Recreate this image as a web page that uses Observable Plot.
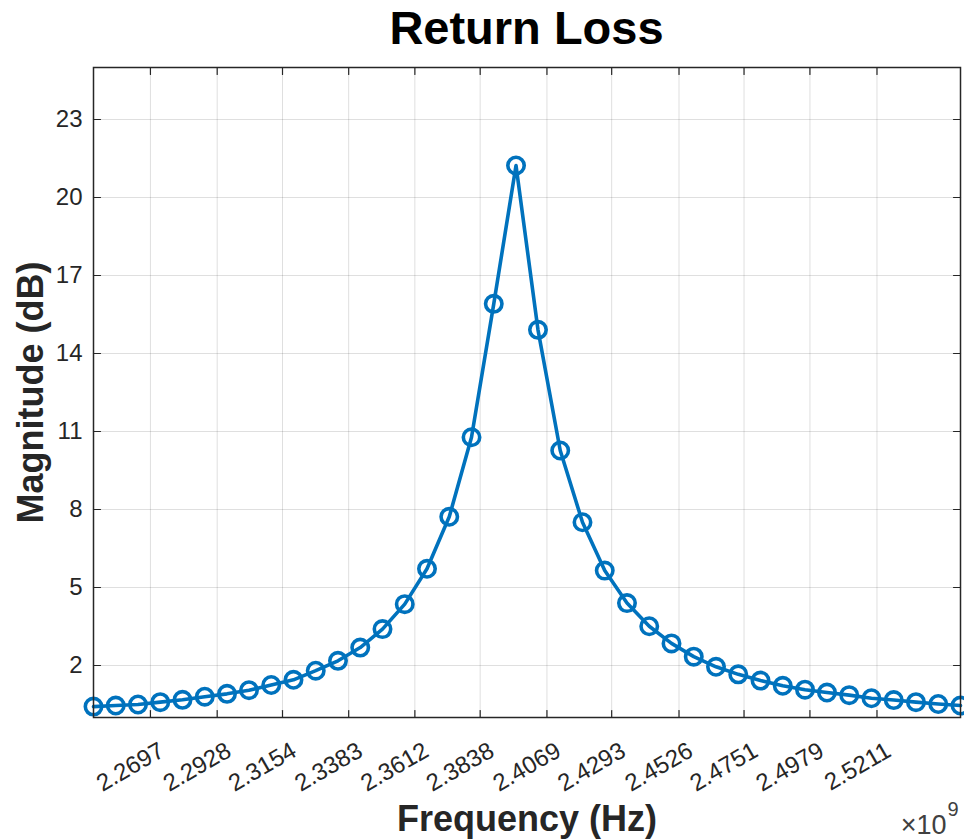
<!DOCTYPE html>
<html>
<head>
<meta charset="utf-8">
<script src="https://cdn.jsdelivr.net/npm/d3@7"></script>
<script src="https://cdn.jsdelivr.net/npm/@observablehq/plot@0.6"></script>
<style>
  body { margin: 0; background: #fff; font-family: "Liberation Sans", Arial, Helvetica, sans-serif; }
  #title { width: 964px; height: 62px; line-height: 55px; box-sizing: border-box; padding-left: 89px;
           text-align: center; font-size: 47px; font-weight: bold; color: #000; white-space: nowrap; }
  #chart svg { display: block; }
</style>
</head>
<body>
<div id="title">Return Loss</div>
<div id="chart"></div>
<script>
// Frequency samples (GHz, axis multiplier ×10^9)
const freqGHz = [
  2.2500, 2.2577, 2.2654, 2.2731, 2.2808, 2.2885, 2.2962, 2.3038, 2.3115, 2.3192,
  2.3269, 2.3346, 2.3423, 2.3500, 2.3577, 2.3654, 2.3731, 2.3808, 2.3885, 2.3962,
  2.4038, 2.4115, 2.4192, 2.4269, 2.4346, 2.4423, 2.4500, 2.4577, 2.4654, 2.4731,
  2.4808, 2.4885, 2.4962, 2.5038, 2.5115, 2.5192, 2.5269, 2.5346, 2.5423, 2.5500
];
// Return loss magnitude (dB)
const magnitudeDB = [
  0.42, 0.46, 0.50, 0.59, 0.68, 0.80, 0.91, 1.05, 1.25, 1.45,
  1.80, 2.18, 2.69, 3.40, 4.36, 5.72, 7.72, 10.78, 15.91, 21.23,
  14.91, 10.27, 7.51, 5.65, 4.40, 3.51, 2.85, 2.34, 1.95, 1.66,
  1.42, 1.22, 1.07, 0.96, 0.86, 0.74, 0.67, 0.59, 0.52, 0.46
];
const xTickValues = [2.2697, 2.2928, 2.3154, 2.3383, 2.3612, 2.3838, 2.4069, 2.4293, 2.4526, 2.4751, 2.4979, 2.5211];
const xTickLabels = ["2.2697", "2.2928", "2.3154", "2.3383", "2.3612", "2.3838", "2.4069", "2.4293", "2.4526", "2.4751", "2.4979", "2.5211"];
const yTickValues = [2, 5, 8, 11, 14, 17, 20, 23];
const titleText = "Return Loss";
const xLabel = "Frequency (Hz)";
const yLabel = "Magnitude (dB)";

const data = freqGHz.map((f, i) => ({f, m: magnitudeDB[i]}));
const xTicks = xTickValues.map((v, i) => ({v, label: xTickLabels[i]}));
const tickShape = {draw(ctx, l) { ctx.moveTo(0, 0); ctx.lineTo(0, -l); }};
const axisColor = "#262626";
const blue = "#0072BD";

const chart = Plot.plot({
  width: 964,
  height: 777,
  marginTop: 5,
  marginBottom: 122,
  marginLeft: 93,
  marginRight: 4,
  style: {fontFamily: '"Liberation Sans", Arial, Helvetica, sans-serif', fontSize: "23px", color: axisColor, background: "#fff"},
  x: {domain: [2.25, 2.55], axis: null},
  y: {domain: [0, 25]},
  marks: [
    Plot.gridX(xTickValues, {stroke: axisColor, strokeOpacity: 0.15, strokeWidth: 1}),
    Plot.gridY(yTickValues, {stroke: axisColor, strokeOpacity: 0.15, strokeWidth: 1}),
    // rotated x tick labels (30°)
    Plot.text(xTicks, {x: "v", text: "label", frameAnchor: "bottom", dx: 7, dy: 23, rotate: -30,
      textAnchor: "end", lineAnchor: "top", fontSize: 24, fill: axisColor}),
    Plot.axisY(yTickValues, {tickSize: 0, tickPadding: 11, label: null, fontSize: 24}),
    // inward ticks on all four sides
    Plot.vector(xTickValues, {x: d => d, frameAnchor: "bottom", length: 7, anchor: "start", rotate: 0, shape: tickShape, stroke: axisColor, strokeWidth: 1.2}),
    Plot.vector(xTickValues, {x: d => d, frameAnchor: "top", length: 7, anchor: "start", rotate: 180, shape: tickShape, stroke: axisColor, strokeWidth: 1.2}),
    Plot.vector(yTickValues, {y: d => d, frameAnchor: "left", length: 7, anchor: "start", rotate: 90, shape: tickShape, stroke: axisColor, strokeWidth: 1.2}),
    Plot.vector(yTickValues, {y: d => d, frameAnchor: "right", length: 7, anchor: "start", rotate: -90, shape: tickShape, stroke: axisColor, strokeWidth: 1.2}),
    Plot.line(data, {x: "f", y: "m", stroke: blue, strokeWidth: 3.6}),
    Plot.dot(data, {x: "f", y: "m", r: 8.2, stroke: blue, strokeWidth: 3.6, fill: "none"}),
    Plot.frame({stroke: axisColor, strokeWidth: 1.5}),
    Plot.text([yLabel], {text: d => d, frameAnchor: "left", dx: -51, rotate: -90, textAnchor: "middle", lineAnchor: "bottom", fontSize: 36, fontWeight: "bold", fill: axisColor}),
    Plot.text([xLabel], {text: d => d, frameAnchor: "bottom", dy: 113, textAnchor: "middle", lineAnchor: "bottom", fontSize: 36, fontWeight: "bold", fill: axisColor}),
    Plot.text(["×10"], {text: d => d, frameAnchor: "bottom-right", dx: -14, dy: 116, textAnchor: "end", lineAnchor: "bottom", fontSize: 27, fill: "#404040"}),
    Plot.text(["9"], {text: d => d, frameAnchor: "bottom-right", dx: -13, dy: 98, textAnchor: "start", lineAnchor: "bottom", fontSize: 20, fill: "#404040"})
  ]
});
document.getElementById("title").textContent = titleText;
document.getElementById("chart").appendChild(chart);
</script>
</body>
</html>
